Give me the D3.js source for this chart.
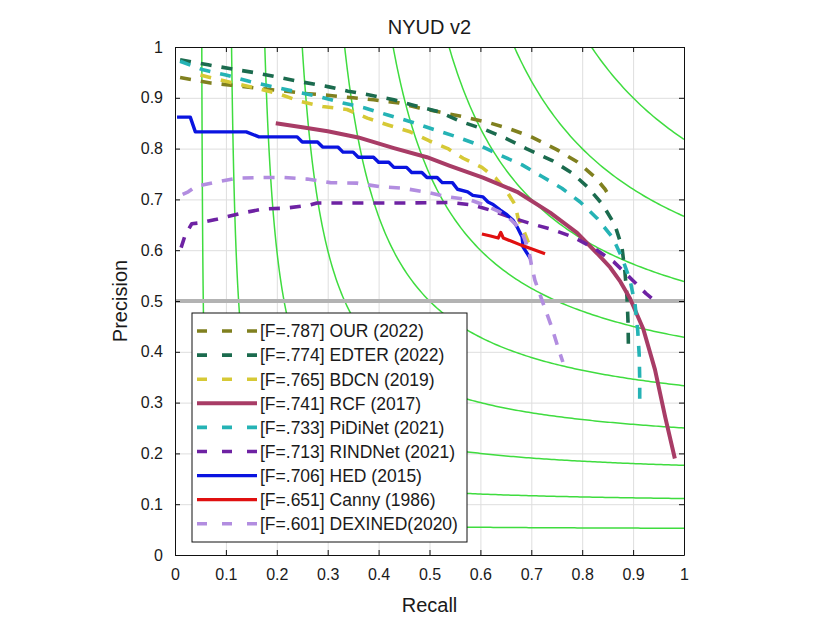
<!DOCTYPE html>
<html>
<head>
<meta charset="utf-8">
<script src="https://d3js.org/d3.v7.min.js"></script>
<style>
body { margin: 0; background: #fff; }
text { font-family: "Liberation Sans", Arial, sans-serif; fill: #1a1a1a; }
</style>
</head>
<body>
<div id="chart"></div>
<script>
// ---- data: [recall, precision] ----
var ourPts = [[0.01,0.94],[0.07,0.929],[0.11,0.925],[0.16,0.919],[0.21,0.914],[0.25,0.909],[0.3,0.905],[0.35,0.9],[0.39,0.896],[0.44,0.89],[0.48,0.88],[0.52,0.872],[0.57,0.862],[0.62,0.85],[0.66,0.838],[0.70,0.823],[0.75,0.798],[0.79,0.774],[0.825,0.744],[0.845,0.72],[0.857,0.70]];
var edterPts = [[0.01,0.975],[0.065,0.965],[0.11,0.957],[0.16,0.949],[0.2,0.941],[0.25,0.931],[0.3,0.922],[0.34,0.913],[0.38,0.906],[0.43,0.896],[0.47,0.885],[0.52,0.872],[0.56,0.854],[0.61,0.837],[0.65,0.82],[0.69,0.80],[0.74,0.777],[0.78,0.752],[0.81,0.725],[0.84,0.69],[0.864,0.65],[0.878,0.607],[0.884,0.557],[0.888,0.508],[0.89,0.46],[0.891,0.40]];
var bdcnPts = [[0.05,0.945],[0.065,0.941],[0.11,0.93],[0.155,0.92],[0.2,0.909],[0.246,0.893],[0.29,0.883],[0.338,0.877],[0.378,0.86],[0.42,0.846],[0.462,0.833],[0.50,0.815],[0.536,0.80],[0.566,0.781],[0.603,0.763],[0.63,0.742],[0.652,0.715],[0.668,0.69],[0.674,0.663],[0.682,0.646],[0.694,0.616],[0.705,0.60]];
var rcfPts = [[0.198,0.85],[0.25,0.842],[0.3,0.834],[0.36,0.822],[0.43,0.801],[0.495,0.783],[0.54,0.766],[0.605,0.743],[0.672,0.715],[0.737,0.674],[0.79,0.634],[0.829,0.594],[0.855,0.566],[0.875,0.538],[0.894,0.505],[0.92,0.445],[0.943,0.365],[0.963,0.272],[0.982,0.19]];
var pidiPts = [[0.01,0.972],[0.055,0.955],[0.1,0.945],[0.147,0.932],[0.196,0.921],[0.242,0.911],[0.285,0.902],[0.33,0.89],[0.373,0.88],[0.418,0.866],[0.466,0.852],[0.507,0.838],[0.554,0.823],[0.597,0.807],[0.639,0.787],[0.682,0.768],[0.721,0.745],[0.76,0.722],[0.796,0.695],[0.829,0.663],[0.859,0.626],[0.878,0.586],[0.894,0.541],[0.904,0.492],[0.909,0.443],[0.912,0.394],[0.913,0.345],[0.913,0.29]];
var rindPts = [[0.012,0.605],[0.02,0.63],[0.033,0.652],[0.05,0.654],[0.082,0.661],[0.131,0.673],[0.173,0.681],[0.22,0.683],[0.265,0.689],[0.279,0.693],[0.363,0.693],[0.45,0.693],[0.54,0.694],[0.585,0.689],[0.619,0.679],[0.658,0.665],[0.697,0.653],[0.743,0.64],[0.782,0.626],[0.823,0.604],[0.862,0.577],[0.899,0.541],[0.925,0.515],[0.943,0.50]];
var hedPts = [[0.004,0.862],[0.03,0.862],[0.04,0.833],[0.14,0.833],[0.165,0.823],[0.24,0.823],[0.25,0.813],[0.28,0.813],[0.29,0.803],[0.32,0.803],[0.33,0.793],[0.35,0.793],[0.36,0.783],[0.39,0.783],[0.40,0.773],[0.42,0.773],[0.43,0.763],[0.455,0.763],[0.465,0.753],[0.485,0.753],[0.495,0.743],[0.515,0.743],[0.525,0.733],[0.545,0.733],[0.555,0.72],[0.575,0.715],[0.585,0.708],[0.605,0.705],[0.615,0.695],[0.625,0.69],[0.639,0.679],[0.652,0.67],[0.664,0.659],[0.672,0.646],[0.682,0.626],[0.684,0.606],[0.698,0.584]];
var cannyPts = [[0.603,0.632],[0.62,0.628],[0.635,0.624],[0.64,0.635],[0.645,0.624],[0.66,0.618],[0.68,0.61],[0.7,0.603],[0.727,0.593]];
var dexinedPts = [[0.015,0.71],[0.026,0.715],[0.04,0.725],[0.075,0.733],[0.122,0.742],[0.167,0.743],[0.215,0.743],[0.26,0.74],[0.305,0.733],[0.357,0.732],[0.403,0.725],[0.448,0.722],[0.495,0.714],[0.536,0.705],[0.58,0.699],[0.615,0.686],[0.639,0.675],[0.66,0.66],[0.68,0.64],[0.695,0.6],[0.70,0.572],[0.707,0.541],[0.723,0.496],[0.74,0.449],[0.752,0.41],[0.762,0.38]];

var legendLabels = ["[F=.787] OUR (2022)", "[F=.774] EDTER (2022)", "[F=.765] BDCN (2019)",
  "[F=.741] RCF (2017)", "[F=.733] PiDiNet (2021)", "[F=.713] RINDNet (2021)",
  "[F=.706] HED (2015)", "[F=.651] Canny (1986)", "[F=.601] DEXINED(2020)"];
var seriesPts = [ourPts, edterPts, bdcnPts, rcfPts, pidiPts, rindPts, hedPts, cannyPts, dexinedPts];

// iso-F contour levels
var fLevels = [0.1, 0.2, 0.3, 0.4, 0.5, 0.6, 0.7, 0.8, 0.9];
var ticks = [0, 0.1, 0.2, 0.3, 0.4, 0.5, 0.6, 0.7, 0.8, 0.9, 1];
var tickLabels = ["0", "0.1", "0.2", "0.3", "0.4", "0.5", "0.6", "0.7", "0.8", "0.9", "1"];

// ---- styles ----
var colors = ["#80801f", "#1b6b4e", "#d6c936", "#a83c66", "#25b3b5", "#6e22a3", "#0a14e0", "#e01010", "#b28de0"];
var dashed = [true, true, true, false, true, true, false, false, true];
var widths = [3.6, 3.6, 3.6, 4, 3.6, 3.6, 3.4, 3.2, 3.6];

var margin = {top: 47, right: 146, bottom: 68, left: 175},
    width = 830 - margin.left - margin.right,
    height = 623 - margin.top - margin.bottom;

var svg = d3.select("#chart").append("svg")
    .attr("width", 830).attr("height", 623);

var g = svg.append("g")
    .attr("transform", "translate(" + margin.left + "," + margin.top + ")");

var x = d3.scaleLinear().domain([0, 1]).range([0, width]);
var y = d3.scaleLinear().domain([0, 1]).range([height, 0]);

g.append("clipPath").attr("id", "plotclip")
  .append("rect").attr("width", width).attr("height", height);

// grid
g.append("g").attr("transform", "translate(0," + height + ")")
  .call(d3.axisBottom(x).tickValues(ticks).tickSize(-height).tickFormat(""))
  .call(function(s) { s.select(".domain").remove(); s.selectAll("line").attr("stroke", "#dedede"); });
g.append("g")
  .call(d3.axisLeft(y).tickValues(ticks).tickSize(-width).tickFormat(""))
  .call(function(s) { s.select(".domain").remove(); s.selectAll("line").attr("stroke", "#dedede"); });

var plot = g.append("g").attr("clip-path", "url(#plotclip)");

// iso-F curves (both halves)
var line = d3.line().x(function(d) { return x(d[0]); }).y(function(d) { return y(d[1]); });
fLevels.forEach(function(f) {
  var half = [];
  for (var r = f; r <= 1.00001; r += 0.005) half.push([r, f * r / (2 * r - f)]);
  var other = half.map(function(d) { return [d[1], d[0]]; }).reverse();
  plot.append("path").datum(other.concat(half))
    .attr("fill", "none").attr("stroke", "#3fdc3f").attr("stroke-width", 1.5)
    .attr("d", line);
});

// F = 0.5 reference line
plot.append("line")
  .attr("x1", x(0)).attr("x2", x(1)).attr("y1", y(0.5)).attr("y2", y(0.5))
  .attr("stroke", "#b3b3b3").attr("stroke-width", 4);

// method curves
seriesPts.forEach(function(pts, i) {
  plot.append("path").datum(pts)
    .attr("fill", "none")
    .attr("stroke", colors[i])
    .attr("stroke-width", widths[i])
    .attr("stroke-dasharray", dashed[i] ? "11,10" : null)
    .attr("stroke-linejoin", "round")
    .attr("d", line);
});

// axes with inward ticks on all four sides
function styleAxis(s) {
  s.select(".domain").attr("stroke", "#111");
  s.selectAll(".tick line").attr("stroke", "#111");
  s.selectAll("text").style("font-size", "16px").attr("fill", "#1a1a1a");
}
g.append("g").attr("transform", "translate(0," + height + ")")
  .call(d3.axisBottom(x).tickValues(ticks).tickSizeInner(-5).tickSizeOuter(0).tickPadding(14)
    .tickFormat(function(d, i) { return tickLabels[i]; }))
  .call(styleAxis);
g.append("g")
  .call(d3.axisLeft(y).tickValues(ticks).tickSizeInner(-5).tickSizeOuter(0).tickPadding(12)
    .tickFormat(function(d, i) { return tickLabels[i]; }))
  .call(styleAxis);
g.append("g")
  .call(d3.axisTop(x).tickValues(ticks).tickSizeInner(-5).tickSizeOuter(0).tickFormat(""))
  .call(styleAxis);
g.append("g").attr("transform", "translate(" + width + ",0)")
  .call(d3.axisRight(y).tickValues(ticks).tickSizeInner(-5).tickSizeOuter(0).tickFormat(""))
  .call(styleAxis);

// titles
svg.append("text").attr("x", margin.left + width / 2).attr("y", 34)
  .attr("text-anchor", "middle").style("font-size", "20px").text("NYUD v2");
svg.append("text").attr("x", margin.left + width / 2).attr("y", 612)
  .attr("text-anchor", "middle").style("font-size", "20px").text("Recall");
svg.append("text")
  .attr("transform", "translate(127," + (margin.top + height / 2) + ") rotate(-90)")
  .attr("text-anchor", "middle").style("font-size", "20px").text("Precision");

// legend
var lg = svg.append("g").attr("transform", "translate(192,313)");
lg.append("rect").attr("width", 275).attr("height", 229)
  .attr("fill", "#fff").attr("stroke", "#111").attr("stroke-width", 1);
legendLabels.forEach(function(lab, i) {
  var yy = 18 + i * 24.1;
  lg.append("line").attr("x1", 5).attr("x2", 65).attr("y1", yy).attr("y2", yy)
    .attr("stroke", colors[i]).attr("stroke-width", widths[i])
    .attr("stroke-dasharray", dashed[i] ? "10,15" : null);
  lg.append("text").attr("x", 68).attr("y", yy).attr("dy", "0.36em")
    .style("font-size", "17.5px").text(lab);
});
</script>
</body>
</html>
